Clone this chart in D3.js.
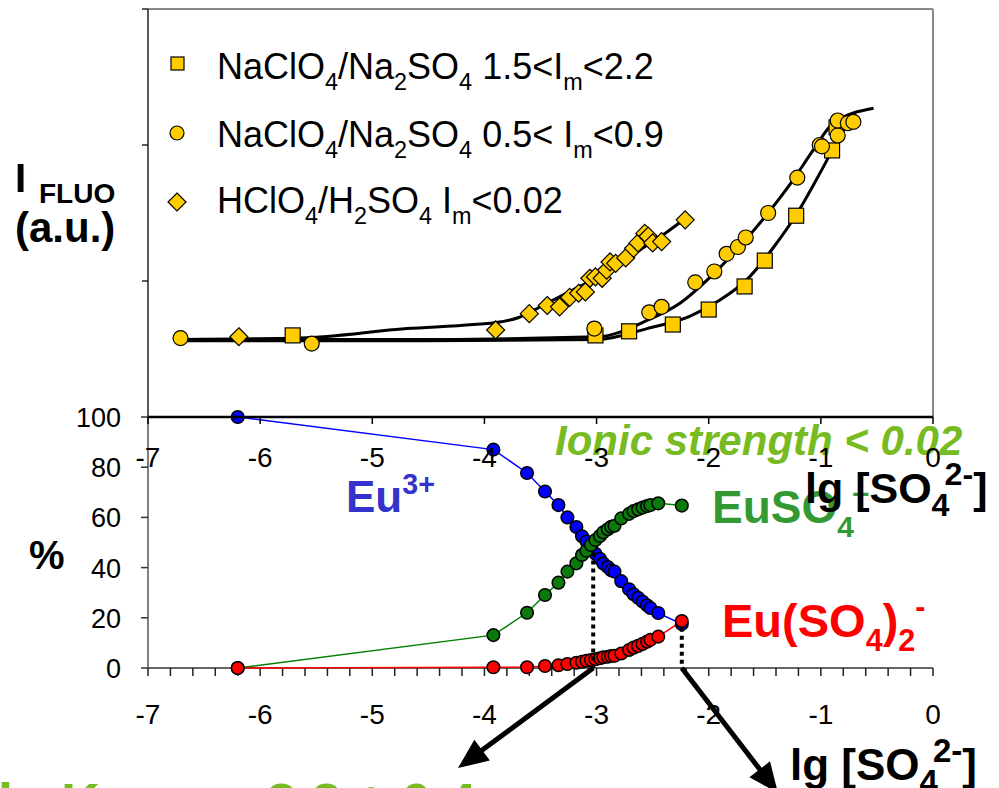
<!DOCTYPE html>
<html>
<head>
<meta charset="utf-8">
<script src="https://cdn.jsdelivr.net/npm/d3@7"></script>
<style>
  body { margin: 0; background: #fff; }
  text { font-family: Arial, "Liberation Sans", sans-serif; }
</style>
</head>
<body>
<svg id="svg" width="999" height="788"></svg>
<script>
// ---- tick labels
var xTicks = [-7, -6, -5, -4, -3, -2, -1, 0];
var pctTicks = [0, 20, 40, 60, 80, 100];

// ---- upper plot: fluorescence intensity (a.u.)
var squareX = [-5.71, -3.01, -2.71, -2.32, -2.00, -1.68, -1.50, -1.22, -0.90, -0.86];
var squareY = [0.60, 0.60, 0.63, 0.68, 0.79, 0.96, 1.15, 1.48, 1.96, 2.13];

var circleX = [-6.71, -5.54, -3.02, -2.53, -2.42, -2.12, -1.95, -1.84, -1.74, -1.67, -1.47, -1.21, -1.01, -0.99, -0.85, -0.85, -0.76, -0.71];
var circleY = [0.58, 0.54, 0.65, 0.77, 0.81, 0.99, 1.07, 1.20, 1.25, 1.32, 1.50, 1.76, 2.00, 1.99, 2.07, 2.18, 2.16, 2.17];

var diamondX = [-6.19, -3.90, -3.60, -3.44, -3.33, -3.24, -3.16, -3.10, -3.06, -3.01, -2.95, -2.91, -2.88, -2.83, -2.74, -2.67, -2.63, -2.57, -2.54, -2.50, -2.42, -2.21];
var diamondY = [0.59, 0.64, 0.76, 0.82, 0.81, 0.88, 0.91, 0.92, 1.02, 1.03, 1.02, 1.08, 1.14, 1.13, 1.17, 1.24, 1.28, 1.35, 1.33, 1.28, 1.29, 1.45];

// fitted curves
var fitHX = [-6.71, -5.64, -4.69, -4.10, -3.85, -3.70, -3.55, -3.41, -3.15, -2.88, -2.61, -2.39, -2.21];
var fitHY = [0.57, 0.58, 0.65, 0.68, 0.70, 0.73, 0.79, 0.85, 0.96, 1.08, 1.23, 1.35, 1.46];
var fitCX = [-6.71, -4.75, -2.99, -2.55, -2.25, -2.01, -1.75, -1.48, -1.25, -1.07, -0.89, -0.53];
var fitCY = [0.57, 0.57, 0.59, 0.71, 0.84, 1.01, 1.23, 1.49, 1.74, 1.96, 2.16, 2.27];
var fitSX = [-6.71, -4.75, -2.99, -2.55, -2.17, -1.90, -1.66, -1.42, -1.21, -1.01, -0.81];
var fitSY = [0.56, 0.56, 0.57, 0.65, 0.74, 0.86, 1.01, 1.25, 1.50, 1.79, 2.10];

// ---- lower plot: species distribution (%)
var specX = [-6.2, -3.92, -3.62, -3.46, -3.34, -3.26, -3.18, -3.13, -3.09, -3.05, -3.01, -2.97, -2.94, -2.90, -2.87, -2.84, -2.78, -2.71, -2.67, -2.63, -2.59, -2.55, -2.52, -2.45, -2.24];
var eu3 = [100, 87.0, 77.7, 70.3, 64.9, 60.0, 56.2, 52.5, 50.4, 47.8, 45.5, 43.5, 41.6, 40.2, 38.9, 38.4, 34.6, 31.4, 29.4, 28.0, 26.5, 25.0, 23.9, 21.9, 17.5];
var euSO4 = [0, 13.1, 22.0, 29.1, 34.0, 38.4, 41.7, 45.0, 46.7, 49.0, 51.0, 52.6, 54.1, 55.3, 56.3, 56.7, 59.6, 61.4, 62.5, 63.2, 63.9, 64.5, 64.9, 65.6, 64.7];
var euSO42 = [0, 0.3, 0.3, 0.8, 1.1, 1.6, 2.1, 2.5, 2.9, 3.2, 3.5, 3.9, 4.3, 4.5, 4.8, 4.9, 5.8, 7.2, 8.1, 8.8, 9.6, 10.5, 11.2, 12.5, 18.7];

var svg = d3.select("#svg");
var x = d3.scaleLinear().domain([-7, 0]).range([148, 933]);
var yTop = d3.scaleLinear().domain([0, 3]).range([417, 9]);
var yPct = d3.scaleLinear().domain([0, 100]).range([668, 417]);

function zip(a, b) {
    return a.map(function (v, i) { return [v, b[i]]; });
}

// text with sub/superscripts: parts = [[str, "n"|"sub"|"sup", dx]]
function rich(g, px, py, size, parts, k) {
    k = k || 0.65;
    var t = g.append("text").attr("x", px).attr("y", py).attr("font-size", size);
    var shift = 0;
    parts.forEach(function (p) {
        var target = p[1] == "sub" ? size * 0.3 : p[1] == "sup" ? -size * 0.42 : 0;
        var ts = t.append("tspan")
            .attr("dy", target - shift)
            .attr("font-size", p[1] == "n" ? size : size * k)
            .text(p[0]);
        if (p[2]) ts.attr("dx", p[2]);
        shift = target;
    });
    return t;
}

// ---------- upper frame
svg.append("line").attr("x1", 148).attr("x2", 933).attr("y1", 9).attr("y2", 9)
    .attr("stroke", "#888").attr("stroke-width", 2);
svg.append("line").attr("x1", 933).attr("x2", 933).attr("y1", 9).attr("y2", 417)
    .attr("stroke", "#888").attr("stroke-width", 2);
svg.append("line").attr("x1", 148).attr("x2", 148).attr("y1", 9).attr("y2", 417)
    .attr("stroke", "#222").attr("stroke-width", 1.5);
[1, 2, 3].forEach(function (v) {
    svg.append("line").attr("x1", 142).attr("x2", 148).attr("y1", yTop(v)).attr("y2", yTop(v))
        .attr("stroke", "#222").attr("stroke-width", 1.5);
});

// fitted lines
var lineTop = d3.line().x(function (d) { return x(d[0]); }).y(function (d) { return yTop(d[1]); })
    .curve(d3.curveMonotoneX);
[[fitSX, fitSY], [fitCX, fitCY], [fitHX, fitHY]].forEach(function (f) {
    svg.append("path").attr("d", lineTop(zip(f[0], f[1])))
        .attr("fill", "none").attr("stroke", "#000").attr("stroke-width", 3);
});

var gold = "#ffcc00";
svg.append("g").selectAll("rect").data(zip(squareX, squareY)).enter().append("rect")
    .attr("x", function (d) { return x(d[0]) - 7.5; })
    .attr("y", function (d) { return yTop(d[1]) - 7.5; })
    .attr("width", 15).attr("height", 15)
    .attr("fill", gold).attr("stroke", "#000").attr("stroke-width", 1.2);
svg.append("g").selectAll("path").data(zip(diamondX, diamondY)).enter().append("path")
    .attr("d", "M0,-9L9,0L0,9L-9,0Z")
    .attr("transform", function (d) { return "translate(" + x(d[0]) + "," + yTop(d[1]) + ")"; })
    .attr("fill", gold).attr("stroke", "#000").attr("stroke-width", 1.2);
svg.append("g").selectAll("circle").data(zip(circleX, circleY)).enter().append("circle")
    .attr("cx", function (d) { return x(d[0]); })
    .attr("cy", function (d) { return yTop(d[1]); })
    .attr("r", 7.5)
    .attr("fill", gold).attr("stroke", "#000").attr("stroke-width", 1.2);

// legend
var leg = svg.append("g");
leg.append("rect").attr("x", 171).attr("y", 57).attr("width", 13).attr("height", 13)
    .attr("fill", gold).attr("stroke", "#000").attr("stroke-width", 1.2);
leg.append("circle").attr("cx", 177).attr("cy", 133).attr("r", 7)
    .attr("fill", gold).attr("stroke", "#000").attr("stroke-width", 1.2);
leg.append("path").attr("d", "M177,193L186,202L177,211L168,202Z")
    .attr("fill", gold).attr("stroke", "#000").attr("stroke-width", 1.2);
rich(leg, 217, 79, 36, [["NaClO", "n"], ["4", "sub"], ["/Na", "n"], ["2", "sub"], ["SO", "n"], ["4", "sub"], [" 1.5<I", "n"], ["m", "sub"], ["<2.2", "n"]]);
rich(leg, 217, 147, 36, [["NaClO", "n"], ["4", "sub"], ["/Na", "n"], ["2", "sub"], ["SO", "n"], ["4", "sub"], [" 0.5< I", "n"], ["m", "sub"], ["<0.9", "n"]]);
rich(leg, 217, 213, 36, [["HClO", "n"], ["4", "sub"], ["/H", "n"], ["2", "sub"], ["SO", "n"], ["4", "sub"], [" I", "n"], ["m", "sub"], ["<0.02", "n"]]);

// I FLUO label
var yl = svg.append("g").attr("font-weight", "bold");
yl.append("text").attr("x", 15).attr("y", 192).attr("font-size", 40).text("I");
yl.append("text").attr("x", 39).attr("y", 203).attr("font-size", 28).text("FLUO");
yl.append("text").attr("x", 15).attr("y", 242).attr("font-size", 42).text("(a.u.)");

// ---------- lower plot
var lineP = d3.line().x(function (d) { return x(d[0]); }).y(function (d) { return yPct(d[1]); });
var species = [[eu3, "#0000ff", "#0000ff"], [euSO4, "#008000", "#0a7a0a"], [euSO42, "#ff0000", "#ff0000"]];

svg.append("line").attr("x1", 148).attr("x2", 148).attr("y1", 417).attr("y2", 668)
    .attr("stroke", "#808080").attr("stroke-width", 2);
pctTicks.forEach(function (v) {
    svg.append("line").attr("x1", 141).attr("x2", 148).attr("y1", yPct(v)).attr("y2", yPct(v))
        .attr("stroke", "#333").attr("stroke-width", 1.5);
    svg.append("text").attr("x", 121).attr("y", yPct(v) + 10).attr("text-anchor", "end")
        .attr("font-size", 27).text(v);
});
svg.append("line").attr("x1", 148).attr("x2", 933).attr("y1", 668).attr("y2", 668)
    .attr("stroke", "#666").attr("stroke-width", 2);
d3.range(-7, 0.001, 0.2).forEach(function (v) {
    svg.append("line").attr("x1", x(v)).attr("x2", x(v)).attr("y1", 668).attr("y2", 676)
        .attr("stroke", "#222").attr("stroke-width", 1.5);
});
xTicks.forEach(function (v) {
    svg.append("text").attr("x", x(v)).attr("y", 724).attr("text-anchor", "middle")
        .attr("font-size", 28).text(v);
});

species.forEach(function (s) {
    svg.append("path").attr("d", lineP(zip(specX, s[0])))
        .attr("fill", "none").attr("stroke", s[1]).attr("stroke-width", 1.5);
});
species.forEach(function (s) {
    svg.append("g").selectAll("circle").data(zip(specX, s[0])).enter().append("circle")
        .attr("cx", function (d) { return x(d[0]); })
        .attr("cy", function (d) { return yPct(d[1]); })
        .attr("r", 6.3)
        .attr("fill", s[2]).attr("stroke", "#000").attr("stroke-width", 1.5);
});

// dotted guides
svg.append("line").attr("x1", x(-3.03)).attr("x2", x(-3.03)).attr("y1", yPct(46)).attr("y2", 668)
    .attr("stroke", "#000").attr("stroke-width", 4).attr("stroke-dasharray", "4,4");
svg.append("line").attr("x1", x(-2.24)).attr("x2", x(-2.24)).attr("y1", yPct(16)).attr("y2", 668)
    .attr("stroke", "#000").attr("stroke-width", 4).attr("stroke-dasharray", "4,4");

// arrows
function arrow(x1, y1, x2, y2) {
    var dx = x2 - x1, dy = y2 - y1, len = Math.sqrt(dx * dx + dy * dy);
    var ux = dx / len, uy = dy / len, L = 30, W = 13;
    var bx = x2 - ux * L, by = y2 - uy * L;
    svg.append("line").attr("x1", x1).attr("y1", y1).attr("x2", bx + ux * 4).attr("y2", by + uy * 4)
        .attr("stroke", "#000").attr("stroke-width", 5);
    svg.append("path").attr("d", "M" + x2 + "," + y2 + "L" + (bx - uy * W) + "," + (by + ux * W) +
        "L" + (bx + uy * W) + "," + (by - ux * W) + "Z").attr("fill", "#000");
}
arrow(x(-3.03), 668, 458, 768);
arrow(x(-2.24), 668, 778, 793);

// upper x axis (drawn over lower plot)
svg.append("line").attr("x1", 148).attr("x2", 933).attr("y1", 417).attr("y2", 417)
    .attr("stroke", "#000").attr("stroke-width", 2.5);
xTicks.forEach(function (v) {
    svg.append("line").attr("x1", x(v)).attr("x2", x(v)).attr("y1", 417).attr("y2", 424)
        .attr("stroke", "#000").attr("stroke-width", 1.5);
});

// annotations
var ann = svg.append("g").attr("font-weight", "bold");
ann.append("text").attr("x", 555).attr("y", 455).attr("font-size", 42).attr("font-style", "italic")
    .attr("fill", "#77bb22").text("Ionic strength < 0.02");
rich(ann, 346, 512, 44, [["Eu", "n"], ["3+", "sup"]]).attr("fill", "#3333cc");
rich(ann, 712, 523, 46, [["EuSO", "n"], ["4", "sub"], ["+", "sup", -2]]).attr("fill", "#339933");
rich(ann, 722, 637, 47, [["Eu(SO", "n"], ["4", "sub"], [")", "n"], ["2", "sub"], ["-", "sup"]]).attr("fill", "#ff0000");
ann.append("text").attr("x", 29).attr("y", 569).attr("font-size", 40).text("%");
var lgk = ann.append("text").attr("x", -2).attr("y", 821).attr("font-size", 54).attr("fill", "#77bb22");
lgk.append("tspan").text("lg K");
lgk.append("tspan").attr("font-size", 35).attr("dy", 16).text("1");
lgk.append("tspan").attr("x", 220).attr("dy", -16).text("= 3.3 \u00b1 0.4");

// upper x tick labels (on top of annotations)
xTicks.forEach(function (v) {
    svg.append("text").attr("x", x(v)).attr("y", 467).attr("text-anchor", "middle")
        .attr("font-size", 28).text(v);
});

rich(ann, 805, 503, 43, [["lg [SO", "n"], ["4", "sub"], ["2-", "sup", -5], ["]", "n"]], 0.75);
rich(ann, 790, 780, 44, [["lg [SO", "n"], ["4", "sub"], ["2-", "sup", -5], ["]", "n"]], 0.75);
</script>
</body>
</html>
